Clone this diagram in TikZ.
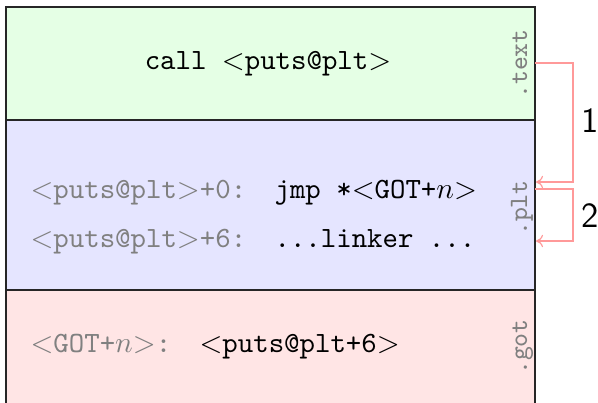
\documentclass[tikz,border=0pt]{standalone}
\usetikzlibrary{arrows.meta}
\begin{document}
\begin{tikzpicture}[x=0.34pt,y=-0.34pt,
  sect/.style={draw=black!85, line width=0.45pt, inner sep=0, outer sep=0, anchor=north west, minimum width=179.86pt},
  code/.style={font=\ttfamily, anchor=base west, inner sep=0},
  addr/.style={code, text=black!50},
  slbl/.style={font=\ttfamily\small, text=black!50, rotate=90, anchor=base, inner sep=0},
  jump/.style={draw=red!40, line width=0.4pt, -{To[length=2.4pt,width=4.2pt]}},
  num/.style={font=\sffamily\large, inner sep=0}]
\useasboundingbox (0,0) rectangle (598,402);
\clip (0,0) rectangle (598,402);
% sections
\node[sect, fill=green!10, minimum height=38.42pt] (textsec) at (6,7) {};
\node[sect, fill=blue!10, minimum height=57.8pt] (pltsec) at (6,120) {};
\node[sect, fill=red!10, minimum height=45pt] (gotsec) at (6,290) {};
% section labels
\node[slbl] (ltext) at (527,64) {.text};
\node[slbl] (lplt) at (527,208) {.plt};
\node[slbl] (lgot) at (527,347) {.got};
% code
\node[font=\ttfamily, anchor=base, inner sep=0] (call) at (268,69) {call $<$puts@plt$>$};
\node[addr] (a0) at (30,198) {$<$puts@plt$>$+0:};
\node[code] (c0) at (274,198) {jmp *$<$GOT+$n$$>$};
\node[addr] (a6) at (30,247) {$<$puts@plt$>$+6:};
\node[code] (c6) at (274,247) {...linker ...};
\node[addr] (ag) at (30,352) {$<$GOT+$n$$>$:};
\node[code] (cg) at (199,352) {$<$puts@plt+6$>$};
% jumps
\coordinate (s1) at (535,63);
\coordinate (e1) at (536,182);
\coordinate (s2) at (535,189);
\coordinate (e2) at (536,241);
\draw[jump] (s1) -- ++(38,0) |- (e1);
\draw[jump] (s2) -- ++(38,0) |- (e2);
\node[num] (n1) at (590,121) {1};
\node[num] (n2) at (590,216) {2};
\end{tikzpicture}
\end{document}
